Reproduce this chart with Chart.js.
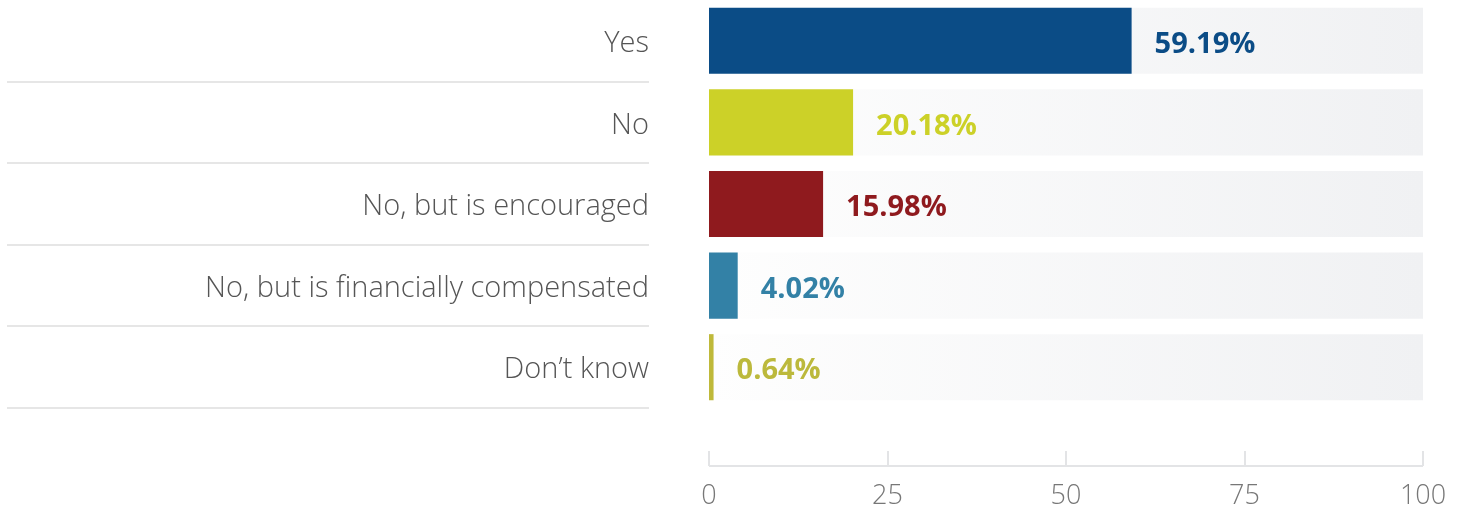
<!DOCTYPE html>
<html>
<head>
<meta charset="utf-8">
<script src="https://cdn.jsdelivr.net/npm/chart.js@4.4.1/dist/chart.umd.min.js"></script>
<style>
  html, body { margin: 0; padding: 0; background: #fff; }
  #wrap { width: 1466px; height: 511px; position: relative; }
</style>
</head>
<body>
<div id="wrap"><canvas id="grafico"></canvas></div>
<script>
const categorias = ['Yes', 'No', 'No, but is encouraged', 'No, but is financially compensated', 'Don\u2019t know'];
const valores = [59.19, 20.18, 15.98, 4.02, 0.64];
const trilha = [100, 100, 100, 100, 100];
const cores = ['#0b4c86', '#ccd128', '#8f1a1e', '#3381a6', '#bfb93a'];
const coresTexto = ['#0b4c86', '#ccd128', '#8f1a1e', '#3381a6', '#bcb93c'];
const ticksX = [0, 25, 50, 75, 100];

// linhas separadoras sob os rótulos da esquerda
const separadores = {
  id: 'separadores',
  afterDraw(chart) {
    const ctx = chart.ctx;
    const y = chart.scales.y;
    const meia = (y.getPixelForValue(1) - y.getPixelForValue(0)) / 2;
    ctx.save();
    ctx.strokeStyle = '#e6e6e6';
    ctx.lineWidth = 2;
    categorias.forEach((c, i) => {
      const py = Math.round(y.getPixelForValue(i) + meia);
      ctx.beginPath();
      ctx.moveTo(7, py);
      ctx.lineTo(649, py);
      ctx.stroke();
    });
    ctx.restore();
  }
};

// eixo x com marcas para cima
const eixoX = {
  id: 'eixoX',
  afterDraw(chart) {
    const ctx = chart.ctx;
    const x = chart.scales.x;
    const base = 466;
    ctx.save();
    ctx.strokeStyle = '#e3e4e6';
    ctx.lineWidth = 2;
    ctx.beginPath();
    ctx.moveTo(x.getPixelForValue(0), base);
    ctx.lineTo(x.getPixelForValue(100), base);
    ticksX.forEach(v => {
      const px = Math.round(x.getPixelForValue(v));
      ctx.moveTo(px, base);
      ctx.lineTo(px, base - 15);
    });
    ctx.stroke();
    ctx.restore();
  }
};

// rótulos de valor ao lado das barras
const rotulos = {
  id: 'rotulos',
  afterDatasetsDraw(chart) {
    const ctx = chart.ctx;
    const meta = chart.getDatasetMeta(0);
    ctx.save();
    ctx.font = 'bold 29px "Open Sans", sans-serif';
    ctx.textBaseline = 'middle';
    ctx.textAlign = 'left';
    meta.data.forEach((bar, i) => {
      ctx.fillStyle = coresTexto[i];
      ctx.fillText(valores[i].toFixed(2) + '%', bar.x + 23, bar.y + 4);
    });
    ctx.restore();
  }
};

const grafico = new Chart(document.getElementById('grafico'), {
  type: 'bar',
  data: {
    labels: categorias,
    datasets: [{
      data: valores,
      backgroundColor: cores,
      borderWidth: 0,
      barPercentage: 0.81,
      categoryPercentage: 1,
      grouped: false
    }, {
      data: trilha,
      backgroundColor: (c) => {
        const area = c.chart.chartArea;
        if (!area) return '#f5f5f6';
        const g = c.chart.ctx.createLinearGradient(area.left, 0, area.right, 0);
        g.addColorStop(0, '#fefefe');
        g.addColorStop(1, '#f0f1f3');
        return g;
      },
      borderWidth: 0,
      barPercentage: 0.81,
      categoryPercentage: 1,
      grouped: false
    }]
  },
  options: {
    indexAxis: 'y',
    responsive: true,
    maintainAspectRatio: false,
    animation: false,
    layout: { padding: { top: 0, right: 43, bottom: 0, left: 0 } },
    plugins: {
      legend: { display: false },
      tooltip: { enabled: false }
    },
    scales: {
      x: {
        min: 0,
        max: 100,
        afterBuildTicks: (s) => { s.ticks = ticksX.map(v => ({ value: v })); },
        afterFit: (s) => {
          s.height = 103;
          s.paddingLeft = 0;
          s.paddingRight = 0;
        },
        grid: { display: false, drawTicks: false },
        border: { display: false },
        ticks: {
          padding: 72,
          minRotation: 0,
          maxRotation: 0,
          autoSkip: false,
          color: '#777',
          font: { family: '"Open Sans", sans-serif', size: 27, weight: 300 }
        }
      },
      y: {
        afterFit: (s) => {
          s.width = 709;
          s.paddingTop = 0;
          s.paddingBottom = 0;
        },
        grid: { display: false, drawTicks: false },
        border: { display: false },
        ticks: {
          padding: 60,
          labelOffset: 3,
          color: '#555',
          font: { family: '"Open Sans", sans-serif', size: 29, weight: 300 }
        }
      }
    }
  },
  plugins: [separadores, eixoX, rotulos]
});
</script>
</body>
</html>
